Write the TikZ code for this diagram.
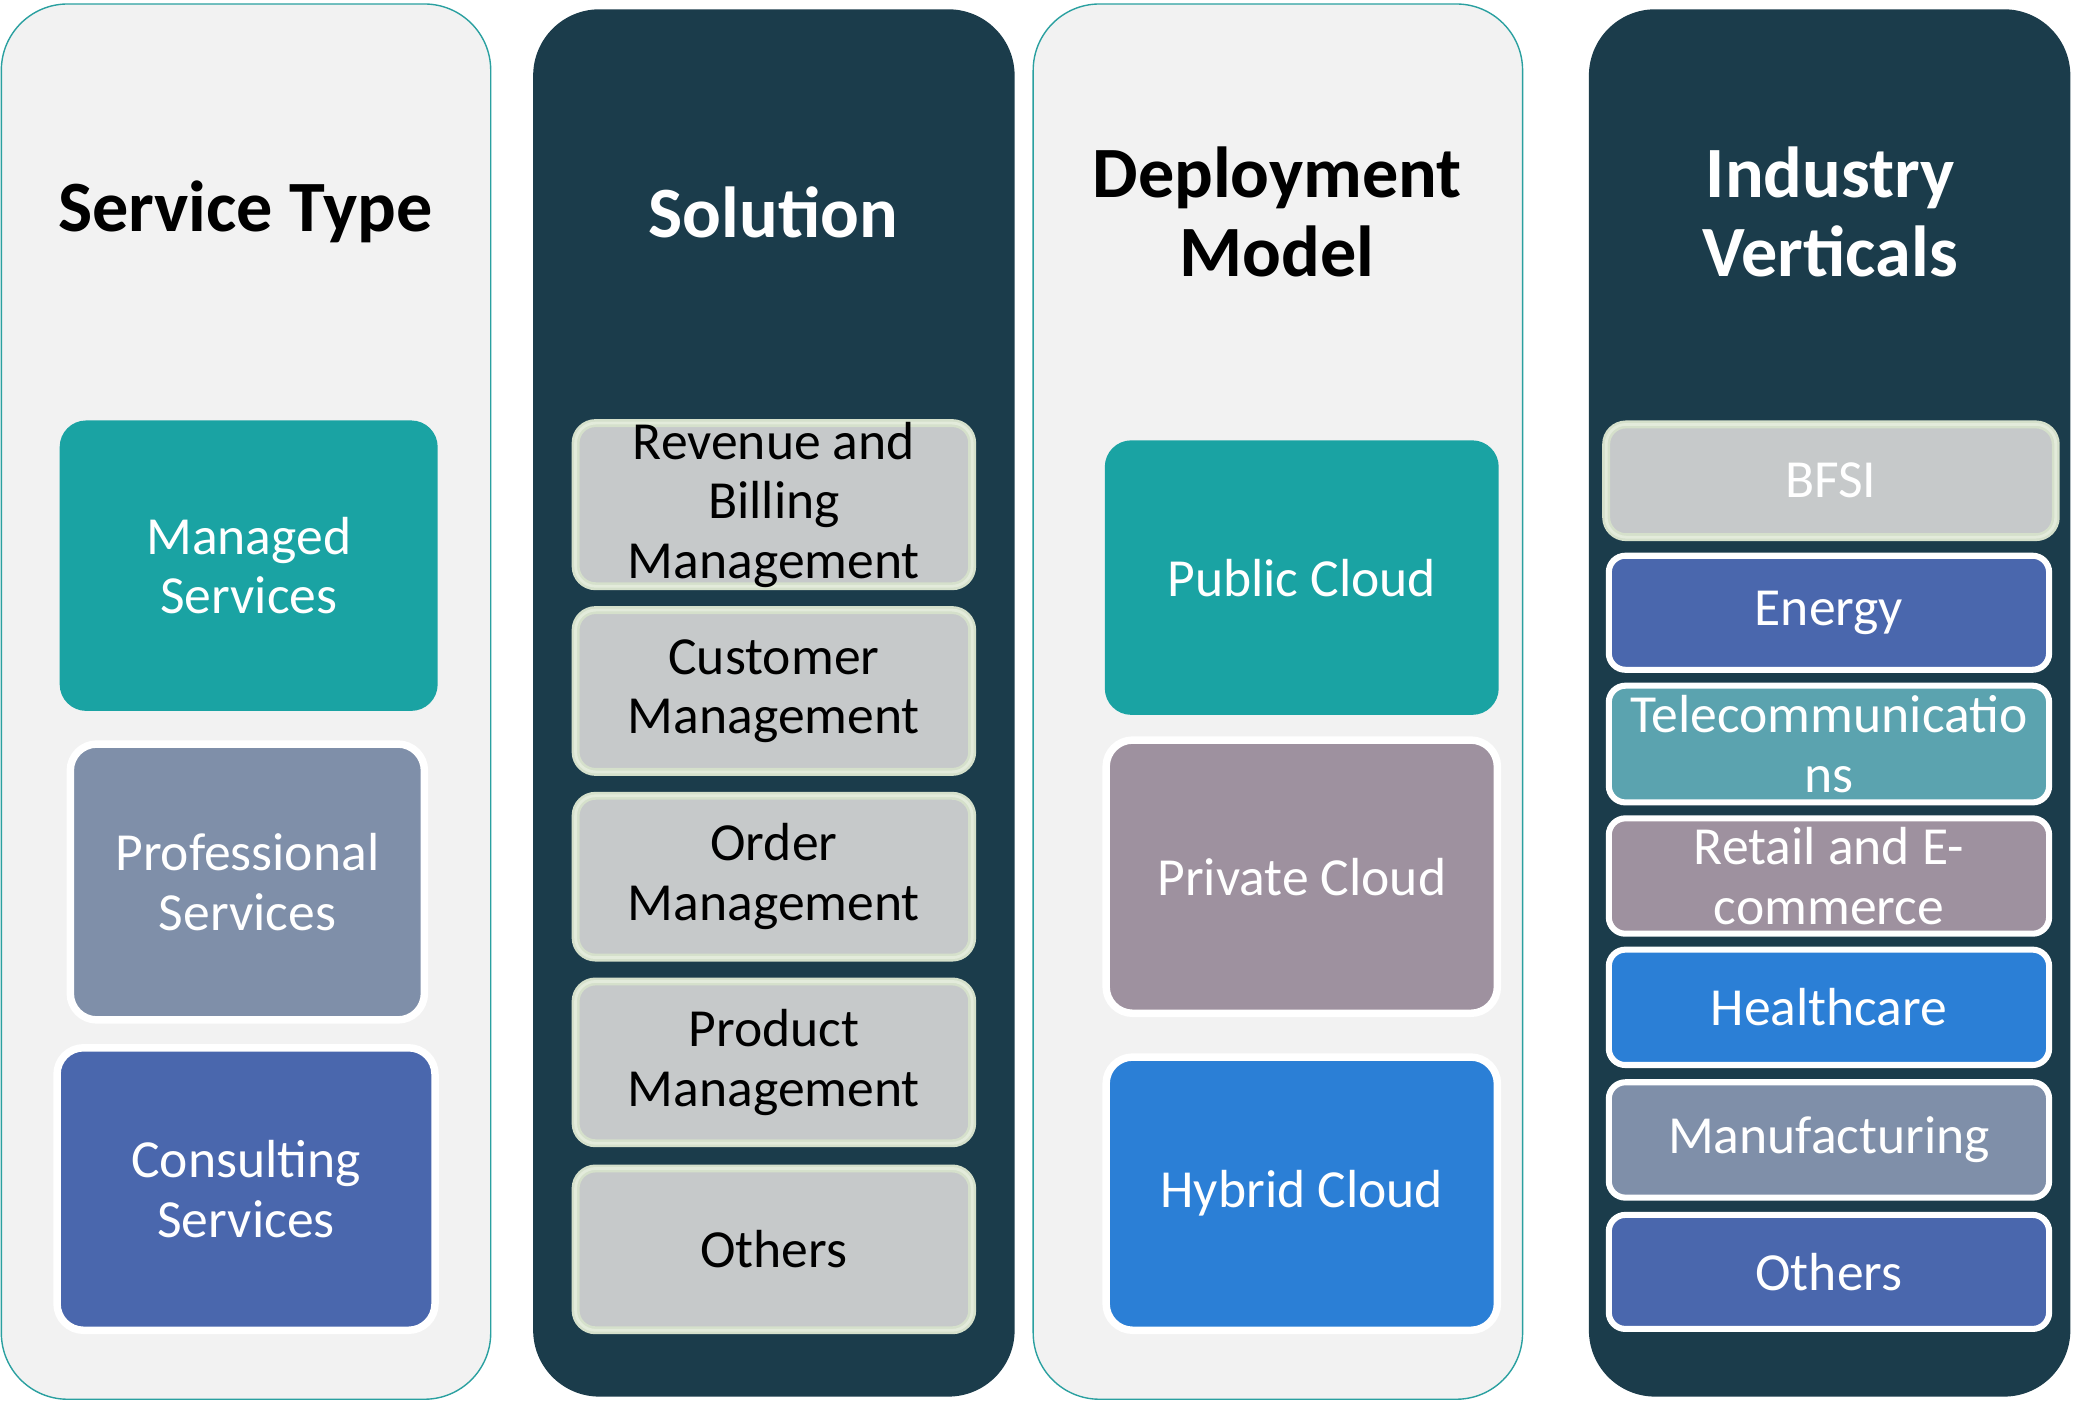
\documentclass[tikz,border=0pt]{standalone}
\usepackage{fontspec}
\setmainfont{Carlito}
\definecolor{panel}{HTML}{F2F2F2}
\definecolor{panelline}{HTML}{2AA0A0}
\definecolor{dark}{HTML}{1B3C4B}
\definecolor{cteal}{HTML}{1AA3A3}
\definecolor{cslate}{HTML}{7F8FA9}
\definecolor{cblue}{HTML}{4A67AD}
\definecolor{cmauve}{HTML}{9E919F}
\definecolor{cbright}{HTML}{2B7FD6}
\definecolor{cteal2}{HTML}{5BA3AF}
\definecolor{cgray}{HTML}{C6C9CA}
\definecolor{cgreen}{HTML}{D5E0CB}
\definecolor{cgreenin}{HTML}{E3EBDB}
\newcommand{\mybx}[7]{%
  \node[#6, minimum width={(#4-#2)*0.02cm}, minimum height={(#5-#3)*0.02cm}] (#1) at ({(#2+#4)/2},{(#3+#5)/2}) {};
  \node[itemtxt] at (#1) {#7};}
\begin{document}
\begin{tikzpicture}[x=0.02cm,y=-0.02cm,
  every node/.style={inner sep=0pt, outer sep=0pt},
  lightcol/.style={rectangle, rounded corners=1cm, fill=panel, draw=panelline, line width=0.6pt},
  darkcol/.style={rectangle, rounded corners=1cm, fill=dark},
  title/.style={align=center, font=\fontsize{31}{34}\selectfont\bfseries},
  itemtxt/.style={align=center, font=\fontsize{23}{25.5}\selectfont, text=white},
  plain/.style={rectangle, rounded corners=0.4cm, fill=#1},
  wbox/.style={rectangle, rounded corners=0.4cm, fill=#1, draw=white, line width=3.2pt},
  vbox/.style={rectangle, rounded corners=0.25cm, fill=#1, draw=white, line width=2.6pt},
  gbox/.style={rectangle, rounded corners=0.3cm, fill=cgray, draw=cgreen, line width=3.4pt,
     postaction={draw=cgreenin, line width=1.2pt}},
]
\useasboundingbox (0,0) rectangle (1563,1056.5);
% columns
\mybx{colA}{1}{3}{370}{1055}{lightcol}{}
\mybx{colB}{402}{7}{765}{1053}{darkcol}{}
\mybx{colC}{779}{3}{1148}{1055}{lightcol}{}
\mybx{colD}{1198}{7}{1561}{1053}{darkcol}{}
% titles
\node[title] (tA) at (185,160) {Service Type};
\node[title, text=white] (tB) at (583,160) {Solution};
\node[title] (tC) at (963,160) {Deployment\\Model};
\node[title, text=white] (tD) at (1380,160) {Industry\\Verticals};
% column A
\mybx{a1}{45}{317}{330}{536}{plain=cteal}{Managed\\Services}
\mybx{a2}{53}{561}{320}{769}{wbox=cslate}{Professional\\Services}
\mybx{a3}{43}{790}{328}{1003}{wbox=cblue}{Consulting\\Services}
% column B
\tikzset{itemtxt/.append style={text=black}}
\mybx{b1}{434}{319}{733}{442}{gbox}{Revenue and\\Billing\\Management}
\mybx{b2}{434}{460}{733}{582}{gbox}{Customer\\Management}
\mybx{b3}{434}{600}{733}{722}{gbox}{Order\\Management}
\mybx{b4}{434}{740}{733}{862}{gbox}{Product\\Management}
\mybx{b5}{434}{881}{733}{1003}{gbox}{Others}
\tikzset{itemtxt/.append style={text=white}}
% column C
\mybx{c1}{833}{332}{1130}{539}{plain=cteal}{Public Cloud}
\mybx{c2}{834}{558}{1129}{764}{wbox=cmauve}{Private Cloud}
\mybx{c3}{834}{797}{1129}{1003}{wbox=cblue!0!cbright}{Hybrid Cloud}
% column D
\mybx{d1}{1211}{320}{1550}{405}{gbox}{BFSI}
\mybx{d2}{1213}{419}{1545}{505}{vbox=cblue}{Energy}
\mybx{d3}{1213}{517}{1545}{605}{vbox=cteal2}{Telecommunicatio\\ns}
\mybx{d4}{1213}{617}{1545}{704}{vbox=cmauve}{Retail and E-\\commerce}
\mybx{d5}{1213}{716}{1545}{803}{vbox=cbright}{Healthcare}
\mybx{d6}{1213}{816}{1545}{903}{vbox=cslate}{Manufacturing}
\mybx{d7}{1213}{916}{1545}{1002}{vbox=cblue}{Others}
\end{tikzpicture}
\end{document}
